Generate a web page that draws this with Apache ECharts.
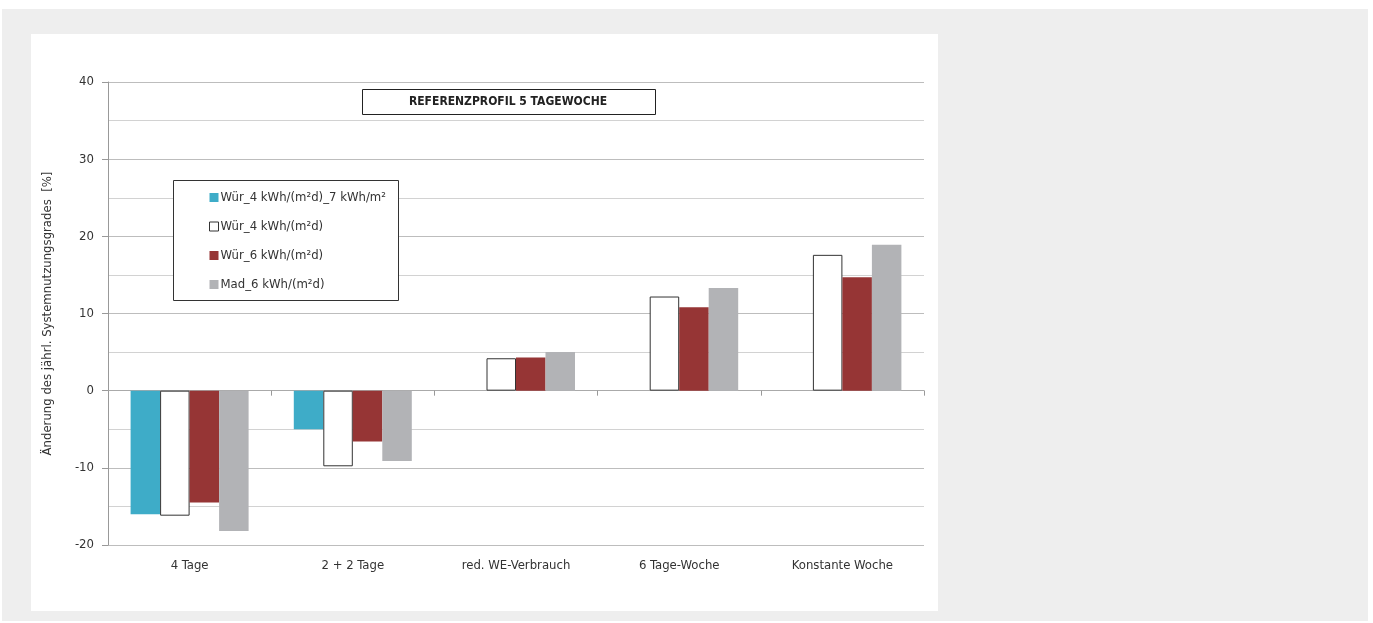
<!DOCTYPE html>
<html>
<head>
<meta charset="utf-8">
<script src="https://cdn.jsdelivr.net/npm/echarts@6/dist/echarts.min.js"></script>
<style>
html,body{margin:0;padding:0;background:#fff;width:1373px;height:623px;overflow:hidden;}
#outer{position:absolute;left:2px;top:9px;width:1366px;height:612px;background:#eeeeee;}
#panel{position:absolute;left:31px;top:34px;width:907px;height:577px;background:#fff;}
#chart{position:absolute;left:0;top:0;width:1373px;height:623px;}
</style>
</head>
<body>
<div id="outer"></div>
<div id="panel"></div>
<div id="chart"></div>
<script>
const categories = ['4 Tage', '2 + 2 Tage', 'red. WE-Verbrauch', '6 Tage-Woche', 'Konstante Woche'];
const seriesNames = ['Wür_4 kWh/(m²d)_7 kWh/m²', 'Wür_4 kWh/(m²d)', 'Wür_6 kWh/(m²d)', 'Mad_6 kWh/(m²d)'];
const wuer4_7 = [-16.0, -5.0, null, null, null];
const wuer4 = [-16.2, -9.8, 4.2, 12.2, 17.6];
const wuer6 = [-14.5, -6.6, 4.3, 10.8, 14.7];
const mad6 = [-18.2, -9.1, 5.0, 13.3, 18.9];
const titleText = 'REFERENZPROFIL 5 TAGEWOCHE';
const yAxisName = 'Änderung des jährl. Systemnutzungsgrades  [%]';

const FONT = '"Liberation Sans Narrow", "DejaVu Sans Condensed", "Roboto", sans-serif';
const chart = echarts.init(document.getElementById('chart'), null, {renderer: 'canvas'});

const colors = ['#3eacc8', '#ffffff', '#963535', '#b2b3b6'];
const borders = ['#3eacc8', '#333333', '#963535', '#b2b3b6'];
const data = [wuer4_7, wuer4, wuer6, mad6];

chart.setOption({
  animation: false,
  backgroundColor: 'transparent',
  textStyle: {fontFamily: FONT},
  graphic: [
    {type: 'rect', left: 362, top: 89, shape: {width: 293, height: 25}, style: {fill: '#fff', stroke: '#222', lineWidth: 1}, z: 10},
    {type: 'text', x: 508, y: 102, style: {text: titleText, font: 'bold 12px ' + FONT, fill: '#222', textAlign: 'center', textVerticalAlign: 'middle'}, z: 11},
    {type: 'rect', left: 173, top: 180, shape: {width: 225, height: 120}, style: {fill: '#fff', stroke: '#333', lineWidth: 1}, z: 10}
  ],
  legend: {
    show: true,
    orient: 'vertical',
    left: 204, top: 186,
    itemGap: 16,
    itemWidth: 9, itemHeight: 9,
    icon: 'rect',
    data: seriesNames.map((n, i) => ({name: n, itemStyle: {color: colors[i], borderColor: borders[i], borderWidth: i === 1 ? 1 : 0}})),
    textStyle: {fontFamily: FONT, fontSize: 13, color: '#333', padding: [0, 0, 0, -3]},
    z: 20
  },
  grid: {left: 108, top: 82, right: 449, bottom: 78, containLabel: false},
  xAxis: [
    {
      type: 'category', data: categories,
      axisLine: {onZero: true, lineStyle: {color: '#aaa', width: 1}},
      axisTick: {show: true, length: 5, lineStyle: {color: '#999'}},
      axisLabel: {show: false}
    },
    {
      type: 'category', data: categories, position: 'bottom',
      axisLine: {show: false, onZero: false},
      axisTick: {show: false},
      axisLabel: {show: true, fontFamily: FONT, fontSize: 13, color: '#333', margin: 14}
    }
  ],
  yAxis: {
    type: 'value', min: -20, max: 40, interval: 10,
    name: yAxisName, nameLocation: 'middle', nameGap: 54,
    nameTextStyle: {fontFamily: FONT, fontSize: 13, color: '#333'},
    axisLine: {show: true, lineStyle: {color: '#999'}},
    axisTick: {show: true, length: 6, lineStyle: {color: '#999'}},
    axisLabel: {fontFamily: FONT, fontSize: 13, color: '#333', margin: 14},
    splitLine: {show: true, lineStyle: {color: '#bdbdbd'}},
    minorTick: {show: false, splitNumber: 2},
    minorSplitLine: {show: true, lineStyle: {color: '#d2d2d2'}}
  },
  series: seriesNames.map((n, i) => ({
    name: n, type: 'bar', data: data[i],
    xAxisIndex: 0,
    barWidth: 29.5,
    barGap: '0%',
    barCategoryGap: '27%',
    itemStyle: {color: colors[i], borderColor: borders[i], borderWidth: i === 1 ? 1 : 0},
    z: 5
  }))
});
</script>
</body>
</html>
